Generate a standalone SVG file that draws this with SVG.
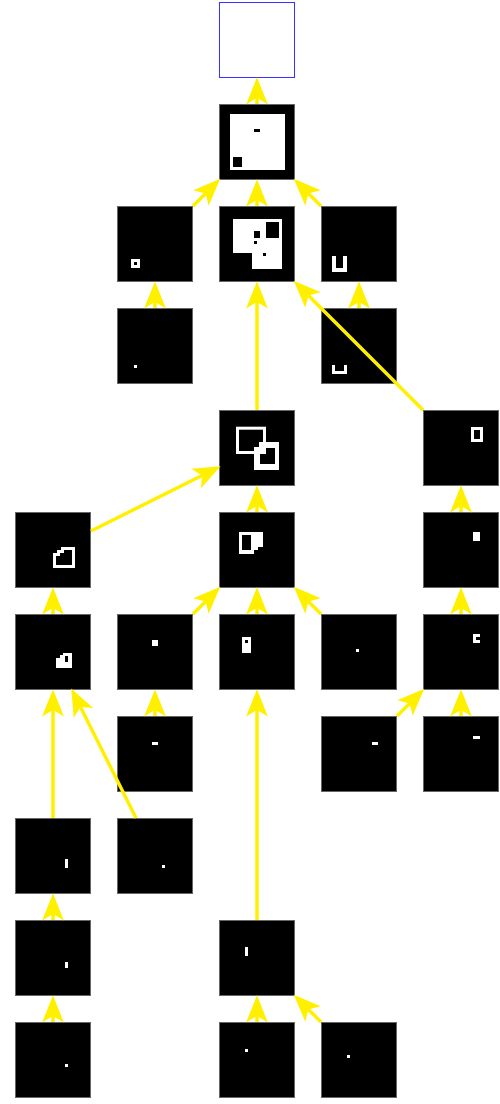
<svg xmlns="http://www.w3.org/2000/svg" width="500" height="1104" viewBox="0 0 500 1104">
<style>
.n{fill:#000;stroke:#666;stroke-width:1}
.w{fill:#fff}
.k{fill:#000}
.e{stroke:#fff000;stroke-width:3.5;fill:none}
</style>
<defs>
<marker id="ah" markerUnits="userSpaceOnUse" markerWidth="30" markerHeight="24" viewBox="-7 -11 27 22" refX="0" refY="0" orient="auto" overflow="visible">
<path d="M19,0 L-6,-10 L0,0 L-6,10 Z" fill="#fff000"/>
</marker>
</defs>
<rect width="500" height="1104" fill="#fff"/>
<g id="n0"><rect x="219.5" y="2.5" width="75" height="75" fill="#fff" stroke="#3333ff" stroke-width="1"/></g>
<g id="n1"><rect class="n" x="219.5" y="104.5" width="75" height="75"/><rect class="w" x="230" y="114" width="55" height="56"/><rect class="k" x="254" y="129" width="6" height="3"/><rect class="k" x="233" y="157" width="9" height="10"/></g>
<g id="n2a"><rect class="n" x="117.5" y="206.5" width="75" height="75"/><rect class="w" x="131" y="259" width="9" height="9"/><rect class="k" x="134" y="262" width="3" height="3"/></g>
<g id="n2b"><rect class="n" x="219.5" y="206.5" width="75" height="75"/><path class="w" d="M233,219 H282 V269 H252 V253 H233 Z"/><rect class="k" x="266" y="222" width="13" height="16"/><rect class="k" x="254" y="231" width="6" height="7"/><rect class="k" x="254" y="241" width="3" height="3"/><rect class="k" x="263" y="253" width="3" height="3"/></g>
<g id="n2c"><rect class="n" x="321.5" y="206.5" width="75" height="75"/><path class="w" d="M332,256 h4 v12 h7 v-12 h4 v16 h-15 Z"/></g>
<g id="n3a"><rect class="n" x="117.5" y="308.5" width="75" height="75"/><rect class="w" x="134" y="365" width="3" height="3"/></g>
<g id="n3b"><rect class="n" x="321.5" y="308.5" width="75" height="75"/><path class="w" d="M332,365 h3 v6 h9 v-6 h3 v9 h-15 Z"/></g>
<g id="n4a"><rect class="n" x="219.5" y="410.5" width="75" height="75"/><path class="w" fill-rule="evenodd" d="M254,447 H259 V442 H279 V470 H254 Z M260,453 V464 H275 V448 H265 V453 Z"/><rect x="237.5" y="428.2" width="27" height="24.3" fill="none" stroke="#fff" stroke-width="3"/></g>
<g id="n4b"><rect class="n" x="423.5" y="410.5" width="75" height="75"/><rect class="w" x="471" y="427" width="12" height="15"/><rect class="k" x="474" y="430" width="6" height="9"/></g>
<g id="n5a"><rect class="n" x="15.5" y="512.5" width="75" height="75"/><path class="w" fill-rule="evenodd" d="M53,568 V553 H57 V550 H61 V547 H75 V568 Z M56,565 H72 V550 H64 V553 H60 V556 H56 Z"/></g>
<g id="n5b"><rect class="n" x="219.5" y="512.5" width="75" height="75"/><path class="w" fill-rule="evenodd" d="M239,532 H263 V547 H258 V550 H254 V554 H239 Z M242,535 V550 H251 V535 Z"/></g>
<g id="n5c"><rect class="n" x="423.5" y="512.5" width="75" height="75"/><rect class="w" x="473" y="532" width="7" height="9"/></g>
<g id="n6a"><rect class="n" x="15.5" y="614.5" width="75" height="75"/><path class="w" fill-rule="evenodd" d="M56,668 V658 H60 V655 H63 V653 H72 V668 Z M65,656 V662 H68 V656 Z"/></g>
<g id="n6b"><rect class="n" x="117.5" y="614.5" width="75" height="75"/><rect class="w" x="152" y="640" width="6" height="6"/></g>
<g id="n6c"><rect class="n" x="219.5" y="614.5" width="75" height="75"/><rect class="w" x="242" y="637" width="9" height="16"/><rect class="k" x="245" y="640" width="3" height="3"/></g>
<g id="n6d"><rect class="n" x="321.5" y="614.5" width="75" height="75"/><rect class="w" x="356" y="649" width="3" height="3"/></g>
<g id="n6e"><rect class="n" x="423.5" y="614.5" width="75" height="75"/><rect class="w" x="473" y="634" width="7" height="9"/><rect class="k" x="476" y="637" width="4" height="3"/></g>
<g id="n7a"><rect class="n" x="117.5" y="716.5" width="75" height="75"/><rect class="w" x="152" y="742" width="6" height="3"/></g>
<g id="n7b"><rect class="n" x="321.5" y="716.5" width="75" height="75"/><rect class="w" x="372" y="742" width="6" height="3"/></g>
<g id="n7c"><rect class="n" x="423.5" y="716.5" width="75" height="75"/><rect class="w" x="473" y="736" width="7" height="3"/></g>
<g id="n8a"><rect class="n" x="15.5" y="818.5" width="75" height="75"/><rect class="w" x="65" y="859" width="3" height="9"/></g>
<g id="n8b"><rect class="n" x="117.5" y="818.5" width="75" height="75"/><rect class="w" x="162" y="865" width="3" height="3"/></g>
<g id="n9a"><rect class="n" x="15.5" y="920.5" width="75" height="75"/><rect class="w" x="65" y="962" width="3" height="6"/></g>
<g id="n9b"><rect class="n" x="219.5" y="920.5" width="75" height="75"/><rect class="w" x="245" y="947" width="3" height="9"/></g>
<g id="n10a"><rect class="n" x="15.5" y="1022.5" width="75" height="75"/><rect class="w" x="65" y="1064" width="3" height="3"/></g>
<g id="n10b"><rect class="n" x="219.5" y="1022.5" width="75" height="75"/><rect class="w" x="245" y="1049" width="3" height="3"/></g>
<g id="n10c"><rect class="n" x="321.5" y="1022.5" width="75" height="75"/><rect class="w" x="347" y="1055" width="3" height="3"/></g>
<g id="edges">
<line class="e" marker-end="url(#ah)" x1="257" y1="104" x2="257" y2="98"/>
<line class="e" marker-end="url(#ah)" x1="257" y1="206" x2="257" y2="200"/>
<line class="e" marker-end="url(#ah)" x1="155" y1="308" x2="155" y2="302"/>
<line class="e" marker-end="url(#ah)" x1="359" y1="308" x2="359" y2="302"/>
<line class="e" marker-end="url(#ah)" x1="257" y1="410" x2="257" y2="302"/>
<line class="e" marker-end="url(#ah)" x1="257" y1="512" x2="257" y2="506"/>
<line class="e" marker-end="url(#ah)" x1="461" y1="512" x2="461" y2="506"/>
<line class="e" marker-end="url(#ah)" x1="53" y1="614" x2="53" y2="608"/>
<line class="e" marker-end="url(#ah)" x1="257" y1="614" x2="257" y2="608"/>
<line class="e" marker-end="url(#ah)" x1="461" y1="614" x2="461" y2="608"/>
<line class="e" marker-end="url(#ah)" x1="155" y1="716" x2="155" y2="710"/>
<line class="e" marker-end="url(#ah)" x1="461" y1="716" x2="461" y2="710"/>
<line class="e" marker-end="url(#ah)" x1="53" y1="818" x2="53" y2="710"/>
<line class="e" marker-end="url(#ah)" x1="53" y1="920" x2="53" y2="914"/>
<line class="e" marker-end="url(#ah)" x1="257" y1="920" x2="257" y2="710"/>
<line class="e" marker-end="url(#ah)" x1="53" y1="1022" x2="53" y2="1016"/>
<line class="e" marker-end="url(#ah)" x1="257" y1="1022" x2="257" y2="1016"/>
<line class="e" marker-end="url(#ah)" x1="193" y1="206" x2="205.6" y2="193.4"/>
<line class="e" marker-end="url(#ah)" x1="321" y1="206" x2="308.4" y2="193.4"/>
<line class="e" marker-end="url(#ah)" x1="423" y1="410" x2="308.4" y2="295.4"/>
<line class="e" marker-end="url(#ah)" x1="91" y1="531" x2="202" y2="475.5"/>
<line class="e" marker-end="url(#ah)" x1="193" y1="614" x2="205.6" y2="601.4"/>
<line class="e" marker-end="url(#ah)" x1="321" y1="614" x2="308.4" y2="601.4"/>
<line class="e" marker-end="url(#ah)" x1="397" y1="716" x2="409.6" y2="703.4"/>
<line class="e" marker-end="url(#ah)" x1="136" y1="818" x2="80.5" y2="707"/>
<line class="e" marker-end="url(#ah)" x1="321" y1="1022" x2="308.4" y2="1009.4"/>
</g>
</svg>
